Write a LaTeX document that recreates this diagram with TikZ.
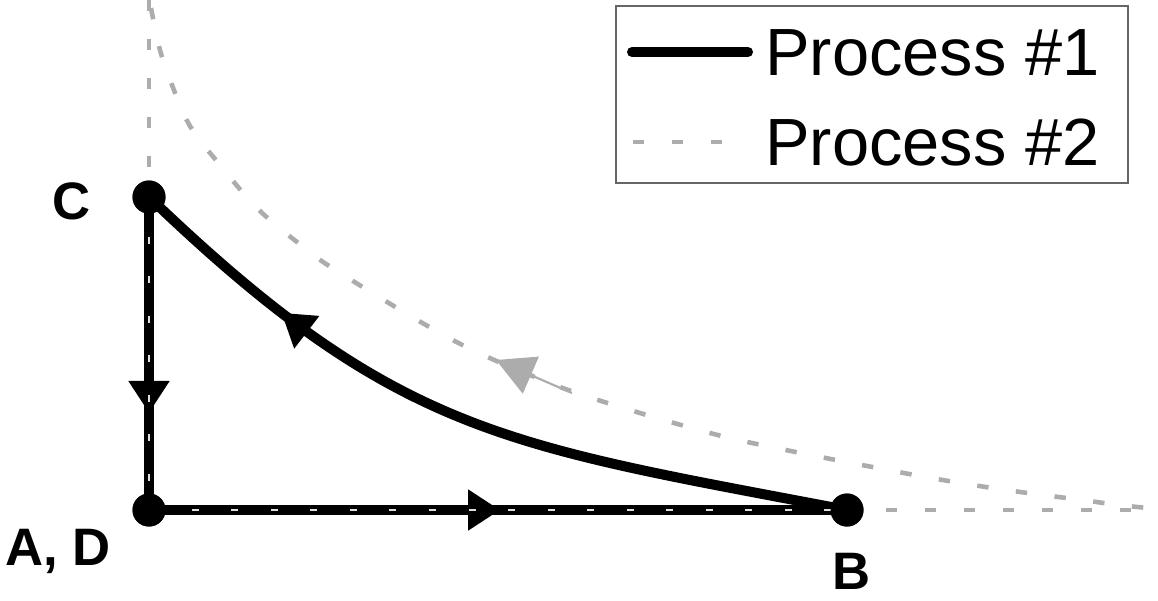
\documentclass[tikz,border=0pt]{standalone}
\usepackage{fontspec}
\setmainfont{Liberation Sans}
\usetikzlibrary{arrows.meta,decorations.markings}
\tikzset{
  proc1/.style={line width=5.7pt, black},
  proc2/.style={line width=2.6pt, gray!65, dash pattern=on 6.5pt off 15.7pt},
  proc2on/.style={line width=1.3pt, gray!25, dash pattern=on 4pt off 18.5pt},
  dot/.style={circle, fill=black, inner sep=0pt, minimum size=0.66cm},
  lbl/.style={font=\fontsize{30}{36}\selectfont\bfseries, inner sep=0pt, anchor=base},
  legtxt/.style={font=\fontsize{38}{46}\selectfont, inner sep=0pt, anchor=base west},
  midarrow/.style={postaction={decorate}, decoration={markings,
    mark=at position #1 with {\arrow{Triangle[length=0.64cm,width=0.78cm]}}}}
}
\begin{document}
\begin{tikzpicture}[x=0.02cm,y=-0.02cm]
\useasboundingbox (0,0) rectangle (1158,600);
% Process #2 (gray dashed)
\coordinate (top) at (149,0);
\coordinate (right) at (1158,510);
\draw[proc2] (top) -- (149,197);
\draw[proc2] (847,510) -- (right);
\draw[proc2] plot[smooth, tension=0.6] coordinates {(151,8) (160,50) (172,85) (190,126) (220,165) (257,208) (297,242) (337,271) (449,338) (530,375) (598,400) (710,433) (786,450) (862,465) (937,479) (1006,490) (1082,500) (1119,505) (1158,509)};
\coordinate (g1) at (572,393);
\coordinate (g2) at (496,360);
\draw[gray!65, line width=1.2pt, -{Triangle[length=0.76cm,width=0.8cm]}] (g1) -- (g2);
% points
\node[dot] (C) at (149,197) {};
\node[dot] (A) at (149,510) {};
\node[dot] (B) at (847,510) {};
% Process #1
\draw[proc1, midarrow=0.69] (C.center) -- (A.center);
\draw[proc1, midarrow=0.503] (A.center) -- (B.center);
\draw[proc1, midarrow=0.775] (B.center) .. controls +(-340,-65) and +(250,240) .. (C.center);
% process #2 dashes over the black straight lines
\draw[proc2on] (C.center) -- (A.center) -- (B.center);
\node[dot] at (C) {};
\node[dot] at (A) {};
\node[dot] at (B) {};
% labels
\node[lbl] (lC) at (72,219) {C};
\node[lbl] (lAD) at (58,565) {A, D};
\node[lbl] (lB) at (852,589) {B};
% legend
\node[draw=gray!80!black, line width=0.8pt, inner sep=0pt, minimum width=10.24cm, minimum height=3.54cm] (legend) at (872,94.5) {};
\coordinate (l1a) at (632,52);
\coordinate (l1b) at (748,52);
\coordinate (l2a) at (633,142);
\coordinate (l2b) at (727,142);
\draw[proc1, line cap=round] (l1a) -- (l1b);
\draw[proc2] (l2a) -- (l2b);
\node[legtxt] (t1) at (765,75) {Process \#1};
\node[legtxt] (t2) at (765,165) {Process \#2};
\end{tikzpicture}
\end{document}
